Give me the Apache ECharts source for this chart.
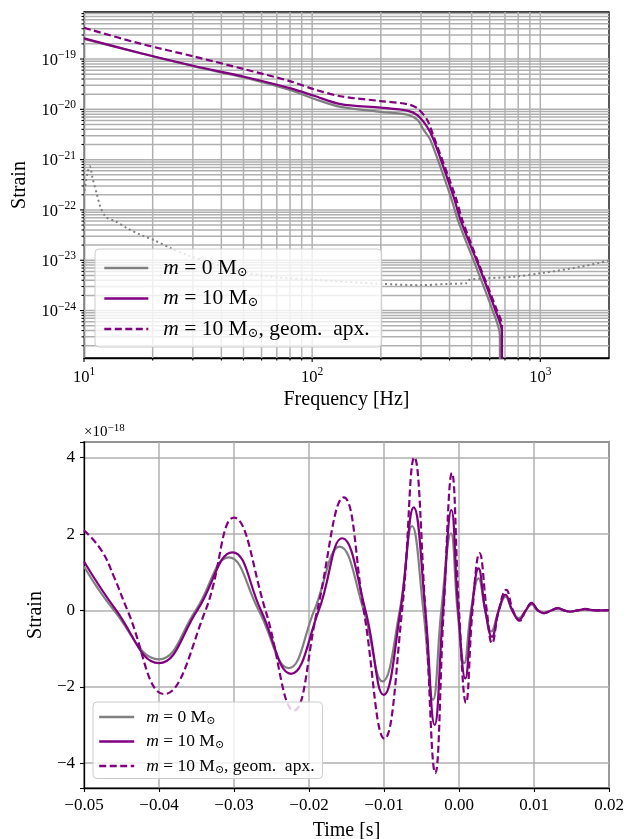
<!DOCTYPE html>
<html>
<head>
<meta charset="utf-8">
<script src="https://cdn.jsdelivr.net/npm/echarts@6/dist/echarts.min.js"></script>
<style>
  html, body { margin: 0; padding: 0; background: #ffffff; }
  #chart { width: 627px; height: 839px; }
</style>
</head>
<body>
<div id="chart"></div>
<script>
// ---------- Frequency domain: |h(f)| ----------
const freqM0 = [10, 17.8, 30.4, 50.3, 80.5, 101.9, 133, 199.5, 261, 289, 308, 330, 405, 435, 530, 618, 665, 665];
const ampM0 = [2.5e-19, 1.29e-19, 7.1e-20, 4.3e-20, 2.4e-20, 1.62e-20, 1.12e-20, 8.9e-21, 7.8e-21, 6.2e-21, 3.9e-21, 2.45e-21, 1.82e-22, 6.3e-23, 6.3e-24, 1.0e-24, 3.2e-25, 1e-30];

const freqM10 = [10, 17.8, 30.4, 50.3, 80.5, 101.9, 133, 199.5, 261, 289, 319, 341, 417, 447, 546, 635, 679, 679];
const ampM10 = [2.57e-19, 1.30e-19, 7.26e-20, 4.45e-20, 2.61e-20, 1.86e-20, 1.27e-20, 1.08e-20, 9.4e-21, 7.7e-21, 4.5e-21, 2.45e-21, 1.82e-22, 6.3e-23, 6.4e-24, 1.02e-24, 3.8e-25, 1e-30];

const freqGeo = [10, 17.8, 30.4, 50.3, 80.5, 101.9, 133, 199.5, 261, 289, 319, 341, 425, 455, 550, 640, 679, 679];
const ampGeo = [4.17e-19, 2.0e-19, 1.12e-19, 6.3e-20, 3.6e-20, 2.5e-20, 1.82e-20, 1.46e-20, 1.27e-20, 1.05e-20, 6.2e-21, 2.85e-21, 1.82e-22, 6.3e-23, 6.5e-24, 1.12e-24, 5.0e-25, 1e-30];

// detector noise amplitude spectral density
const freqNoise = [10.05, 10.35, 10.6, 10.9, 11.36, 11.8, 12.5, 13.8, 15.5, 17.7, 20.3, 24, 28.4, 35, 48.7, 70, 100, 200, 298, 400, 477, 490, 764, 1000, 1500, 2000];
const ampNoise = [2.4e-22, 5.4e-22, 7.4e-22, 4.3e-22, 2.14e-22, 1.15e-22, 7.2e-23, 5.9e-23, 4.3e-23, 3.2e-23, 2.5e-23, 1.74e-23, 1.26e-23, 9.3e-24, 5.9e-24, 4.6e-24, 4.1e-24, 3.4e-24, 3.2e-24, 3.4e-24, 3.5e-24, 4.1e-24, 4.7e-24, 5.5e-24, 7.4e-24, 9.8e-24];

// ---------- Time domain: h(t), in units of 1e-18 ----------
const timeM0 = [-0.05, -0.046, -0.0400, -0.0351, -0.0307, -0.0267, -0.0227, -0.0193, -0.0159, -0.0127, -0.0102, -0.0079, -0.00626, -0.00475, -0.00346, -0.00236, -0.00107, -0.0002, 0.0007, 0.0016, 0.0026, 0.0035, 0.0043, 0.0053, 0.0062, 0.0071, 0.0080, 0.0089, 0.0097, 0.0105, 0.0114, 0.0123, 0.0132, 0.0140, 0.0148, 0.0158, 0.0168, 0.0184, 0.02];
const strainM0 = [1.15, 0, -1.28, 0, 1.39, 0, -1.51, 0, 1.67, 0, -1.86, 0, 2.21, 0, -2.34, 0, 2.02, 0, -1.38, 0, 0.84, 0, -0.55, 0, 0.36, 0, -0.20, 0, 0.16, 0, -0.07, 0, 0.05, 0, -0.03, 0, 0.02, 0, 0.01];

const timeM10 = [-0.05, -0.0457, -0.0400, -0.0349, -0.0302, -0.0264, -0.0224, -0.0187, -0.01557, -0.01247, -0.01004, -0.0078, -0.00604, -0.00449, -0.00325, -0.00213, -0.00102, -0.0001, 0.00084, 0.0017, 0.0026, 0.0035, 0.0044, 0.0053, 0.0062, 0.0071, 0.0080, 0.0089, 0.0097, 0.0105, 0.0113, 0.0123, 0.0132, 0.0140, 0.0148, 0.0158, 0.0168, 0.0184, 0.02];
const strainM10 = [1.28, 0, -1.38, 0, 1.52, 0, -1.66, 0, 1.89, 0, -2.21, 0, 2.70, 0, -3.0, 0, 2.63, 0, -1.78, 0, 1.10, 0, -0.69, 0, 0.41, 0, -0.25, 0, 0.19, 0, -0.07, 0, 0.06, 0, -0.03, 0, 0.03, 0, 0.01];

const timeGeo = [-0.05, -0.0477, -0.046, -0.0442, -0.0393, -0.0338, -0.0300, -0.0258, -0.0220, -0.0189, -0.01536, -0.0127, -0.00994, -0.00759, -0.00595, -0.00449, -0.00316, -0.00205, -0.00094, 0.0000, 0.00093, 0.0018, 0.00274, 0.0037, 0.0044, 0.0053, 0.0063, 0.0072, 0.0081, 0.0089, 0.0097, 0.0105, 0.0113, 0.0123, 0.0133, 0.0140, 0.0148, 0.0158, 0.0168, 0.0184, 0.02];
const strainGeo = [2.1, 1.58, 0.88, 0, -2.19, 0, 2.43, 0, -2.62, 0, 2.96, 0, -3.36, 0, 4.01, 0, -4.26, 0, 3.60, 0, -2.42, 0, 1.50, 0, -0.86, 0, 0.54, 0, -0.27, 0, 0.20, 0, -0.07, 0, 0.06, 0, -0.03, 0, 0.04, 0, 0.01];

// ---------- axis ranges and ticks ----------
const freqRange = [10, 2000];
const ampRange = [1.14e-25, 8.6e-19];
const timeRange = [-0.05, 0.02];
const strainRange = [-4.65, 4.41];
const freqMajorTicks = [10, 100, 1000];
const freqMinorTicks = [20, 30, 40, 50, 60, 70, 80, 90, 200, 300, 400, 500, 600, 700, 800, 900];
const ampMajorTicks = [1e-24, 1e-23, 1e-22, 1e-21, 1e-20, 1e-19];
const ampMinorMultipliers = [2, 3, 4, 5, 6, 7, 8, 9];
const ampDecades = [-25, -24, -23, -22, -21, -20, -19];

const nameM0 = 'm = 0 M⊙';
const nameM10 = 'm = 10 M⊙';
const nameGeo = 'm = 10 M⊙, geom. apx.';

// ---------- styling ----------
const FONT = "'Liberation Serif', 'DejaVu Serif', serif";
const GRID_COLOR = '#b0b0b0';
const GREY = '#808080';
const PURPLE = '#800080';
const TICK_FONT = 17;

const zip = (xs, ys) => xs.map((x, i) => [x, ys[i]]);

const ampMinorTicks = [];
ampDecades.forEach(e => ampMinorMultipliers.forEach(m => {
  const v = m * Math.pow(10, e);
  if (v > ampRange[0] && v < ampRange[1]) ampMinorTicks.push(v);
}));

function powLabel(v) {
  const e = Math.log10(v);
  const r = Math.round(e);
  if (Math.abs(e - r) > 1e-6) return '';
  return '{b|10}{p|' + (r < 0 ? '\u2212' + (-r) : r) + '}';
}
const powRich = {
  b: { fontSize: 16.5, lineHeight: 20, verticalAlign: 'bottom', fontFamily: FONT, color: '#000' },
  p: { fontSize: 11.5, lineHeight: 11, verticalAlign: 'top', fontFamily: FONT, color: '#000' }
};

function legendRich(base, sub, line, subLine, lead) {
  return {
    i: { fontFamily: FONT, fontStyle: 'italic', fontSize: base, lineHeight: line, verticalAlign: 'middle', color: '#000', padding: [0, 0, 0, lead] },
    t: { fontFamily: FONT, fontSize: base, lineHeight: line, verticalAlign: 'middle', color: '#000' },
    s: { fontFamily: FONT, fontSize: sub, lineHeight: subLine, verticalAlign: 'bottom', color: '#000' }
  };
}
const legendText = {};
legendText[nameM0] = '{i|m}{t| = 0 M}{s|⊙}';
legendText[nameM10] = '{i|m}{t| = 10 M}{s|⊙}';
legendText[nameGeo] = '{i|m}{t| = 10 M}{s|⊙}{t|, geom.  apx.}';

const axisLineStyle = { show: true, onZero: false, lineStyle: { color: '#000', width: 1.3 } };
const axisTickStyle = { show: true, inside: false, length: 4, lineStyle: { color: '#000', width: 1.1 } };
const splitStyle = { show: true, lineStyle: { color: GRID_COLOR, width: 1.5 } };
const nameStyle = { fontSize: 20, fontFamily: FONT, color: '#000' };

// grid lines and ticks (major and minor) of the log-log panel
const freqGridSeries = {
  type: 'custom', xAxisIndex: 0, yAxisIndex: 0, silent: true, z: 1,
  data: freqMajorTicks.map(v => [v, ampRange[0], 1]).concat(freqMinorTicks.map(v => [v, ampRange[0], 0])),
  renderItem: (params, api) => {
    const x = api.coord([api.value(0), ampRange[0]])[0];
    const len = api.value(2) ? 4 : 2.5;
    const cs = params.coordSys;
    return { type: 'group', children: [
      { type: 'line', shape: { x1: x, y1: cs.y, x2: x, y2: cs.y + cs.height }, style: { stroke: GRID_COLOR, lineWidth: 1.5 } },
      { type: 'line', shape: { x1: x, y1: cs.y + cs.height, x2: x, y2: cs.y + cs.height + len }, style: { stroke: '#000', lineWidth: 1.1 } }
    ] };
  }
};
const ampGridSeries = {
  type: 'custom', xAxisIndex: 0, yAxisIndex: 0, silent: true, z: 1,
  data: ampMajorTicks.map(v => [freqRange[0], v, 1]).concat(ampMinorTicks.map(v => [freqRange[0], v, 0])),
  renderItem: (params, api) => {
    const y = api.coord([freqRange[0], api.value(1)])[1];
    const len = api.value(2) ? 4 : 2.5;
    const cs = params.coordSys;
    return { type: 'group', children: [
      { type: 'line', shape: { x1: cs.x, y1: y, x2: cs.x + cs.width, y2: y }, style: { stroke: GRID_COLOR, lineWidth: 1.5 } },
      { type: 'line', shape: { x1: cs.x - len, y1: y, x2: cs.x, y2: y }, style: { stroke: '#000', lineWidth: 1.1 } }
    ] };
  }
};

function lineSeries(name, xi, data, color, type, width, smooth) {
  return {
    name: name, type: 'line', xAxisIndex: xi, yAxisIndex: xi, data: data,
    symbol: 'none', showSymbol: false, smooth: smooth, clip: true, z: 3,
    lineStyle: { color: color, type: type, width: width },
    itemStyle: { color: color }
  };
}

const gridBase = { show: true, borderColor: '#000', borderWidth: 1.3, backgroundColor: 'transparent', containLabel: false, outerBoundsMode: 'none' };

const chart = echarts.init(document.getElementById('chart'), null, { renderer: 'canvas' });
chart.setOption({
  animation: false,
  backgroundColor: '#ffffff',
  textStyle: { fontFamily: FONT },
  title: {
    text: '{t|×10}{p|\u221218}', left: 84, top: 423, padding: 0,
    textStyle: { rich: {
      t: { fontSize: 15, lineHeight: 17, verticalAlign: 'bottom', fontFamily: FONT, color: '#000', fontWeight: 'normal' },
      p: { fontSize: 11, lineHeight: 11, verticalAlign: 'top', fontFamily: FONT, color: '#000', fontWeight: 'normal' }
    } }
  },
  grid: [
    Object.assign({ left: 84, top: 12, width: 525, height: 346 }, gridBase),
    Object.assign({ left: 84, top: 442, width: 525, height: 346 }, gridBase)
  ],
  xAxis: [
    {
      type: 'log', logBase: 10, gridIndex: 0, min: freqRange[0], max: freqRange[1],
      axisLine: axisLineStyle, axisTick: { show: false }, splitLine: { show: false }, minorTick: { show: false },
      axisLabel: { formatter: powLabel, rich: powRich, margin: 8 },
      name: 'Frequency [Hz]', nameLocation: 'middle', nameGap: 32, nameMoveOverlap: false, nameTextStyle: nameStyle
    },
    {
      type: 'value', gridIndex: 1, min: timeRange[0], max: timeRange[1], interval: 0.01,
      axisLine: axisLineStyle, axisTick: axisTickStyle, splitLine: splitStyle,
      axisLabel: {
        margin: 9, fontSize: TICK_FONT, fontFamily: FONT, color: '#000',
        formatter: v => (Math.abs(v) < 1e-9 ? '0.00' : (v < 0 ? '\u2212' + (-v).toFixed(2) : v.toFixed(2)))
      },
      name: 'Time [s]', nameLocation: 'middle', nameGap: 33, nameMoveOverlap: false, nameTextStyle: nameStyle
    }
  ],
  yAxis: [
    {
      type: 'log', logBase: 10, gridIndex: 0, min: ampRange[0], max: ampRange[1],
      axisLine: axisLineStyle, axisTick: { show: false }, splitLine: { show: false }, minorTick: { show: false },
      axisLabel: { formatter: powLabel, rich: powRich, margin: 8 },
      name: 'Strain', nameLocation: 'middle', nameGap: 54, nameRotate: 90, nameMoveOverlap: false, nameTextStyle: nameStyle
    },
    {
      type: 'value', gridIndex: 1, min: strainRange[0], max: strainRange[1], splitNumber: 5,
      axisLine: axisLineStyle, axisTick: axisTickStyle, splitLine: splitStyle,
      axisLabel: {
        margin: 9, fontSize: TICK_FONT, fontFamily: FONT, color: '#000',
        formatter: v => {
          const r = Math.round(v);
          if (Math.abs(v - r) > 1e-6 || r % 2 !== 0) return '';
          return r === 0 ? '0' : (r < 0 ? '\u2212' + (-r) : String(r));
        }
      },
      name: 'Strain', nameLocation: 'middle', nameGap: 38, nameRotate: 90, nameMoveOverlap: false, nameTextStyle: nameStyle
    }
  ],
  legend: [
    {
      data: [nameM0, nameM10, nameGeo], orient: 'vertical', left: 95, top: 249,
      itemWidth: 44, itemHeight: 22, itemGap: 8.5, padding: [8, 12, 7, 8],
      backgroundColor: 'rgba(255,255,255,0.8)', borderColor: '#cccccc', borderWidth: 1, borderRadius: 4,
      selectedMode: false, formatter: n => legendText[n],
      itemStyle: { opacity: 0 }, lineStyle: { width: 2.6 },
      textStyle: { rich: legendRich(21.5, 13, 22, 11, 10) }
    },
    {
      data: [nameM0, nameM10, nameGeo], orient: 'vertical', left: 93, top: 702,
      itemWidth: 35, itemHeight: 19, itemGap: 6, padding: [6, 8, 3, 5],
      backgroundColor: 'rgba(255,255,255,0.8)', borderColor: '#cccccc', borderWidth: 1, borderRadius: 4,
      selectedMode: false, formatter: n => legendText[n],
      itemStyle: { opacity: 0 }, lineStyle: { width: 2.4 },
      textStyle: { rich: legendRich(17.5, 11, 19, 9, 7) }
    }
  ],
  series: [
    freqGridSeries,
    ampGridSeries,
    {
      type: 'line', xAxisIndex: 0, yAxisIndex: 0, data: zip(freqNoise, ampNoise),
      symbol: 'none', smooth: 0.3, z: 2, silent: true,
      lineStyle: { color: GREY, type: [2, 3], width: 2 }
    },
    lineSeries(nameM0, 0, zip(freqM0, ampM0), GREY, 'solid', 2.2, 0.3),
    lineSeries(nameM10, 0, zip(freqM10, ampM10), PURPLE, 'solid', 2.2, 0.3),
    lineSeries(nameGeo, 0, zip(freqGeo, ampGeo), PURPLE, [7, 3.5], 2.2, 0.3),
    lineSeries(nameM0, 1, zip(timeM0, strainM0), GREY, 'solid', 2.2, 0.45),
    lineSeries(nameM10, 1, zip(timeM10, strainM10), PURPLE, 'solid', 2.2, 0.45),
    lineSeries(nameGeo, 1, zip(timeGeo, strainGeo), PURPLE, [7, 3.5], 2.2, 0.45)
  ]
});
</script>
</body>
</html>
